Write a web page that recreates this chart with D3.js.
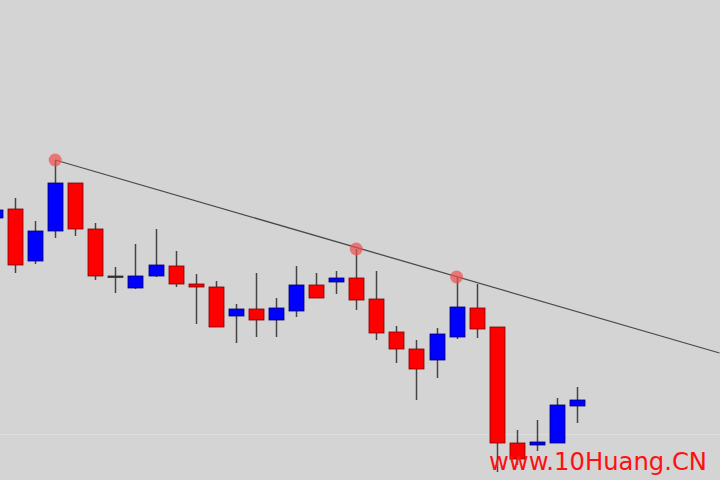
<!DOCTYPE html>
<html>
<head>
<meta charset="utf-8">
<script src="https://cdn.jsdelivr.net/npm/d3@7"></script>
<style>
  body { margin: 0; background: #d4d4d4; }
  svg { display: block; }
</style>
</head>
<body>
<div id="chart"></div>
<script>
// candle data (price units), index 0 is partly off the left edge
const opens  = [282, 291, 239, 269, 317, 271, 224, 212, 224, 234, 216, 213, 184, 191, 180, 189, 215, 218, 222, 201, 168, 151, 140, 163, 192, 173, 57, 55, 57, 94];
const closes = [290, 235, 269, 317, 271, 224, 224, 224, 235, 216, 213, 173, 191, 180, 192, 215, 202, 222, 200, 167, 151, 131, 166, 193, 171, 57, 41, 58, 95, 100];
const highs  = [296, 302, 279, 340, 317, 277, 233, 256, 271, 249, 226, 219, 196, 227, 202, 234, 227, 229, 251, 229, 174, 160, 172, 223, 216, 173, 70, 80, 102, 113];
const lows   = [278, 227, 236, 262, 264, 220, 207, 211, 223, 213, 176, 173, 157, 163, 163, 183, 202, 206, 190, 160, 137, 100, 122, 161, 162, 28, 35, 49, 57, 77];
const bullish = [true, false, true, true, false, false, null, true, true, false, false, false, true, false, true, true, false, true, false, false, false, false, true, true, false, false, false, true, true, true];

// trend line touches (candle index, price)
const touchIdx   = [3, 18, 23];
const touchPrice = [340, 251, 223];
const trendStart = [3, 340];
const trendEnd   = [36.1, 147];

const watermark = "www.10Huang.CN";

const width = 720, height = 480;

const svg = d3.select("#chart")
    .append("svg")
    .attr("width", width)
    .attr("height", height);

svg.append("rect")
    .attr("width", width)
    .attr("height", height)
    .attr("fill", "#d4d4d4");

// scales
const x = d3.scaleLinear().domain([0, 29]).range([-5, 577]);
const y = d3.scaleLinear().domain([20, 500]).range([480, 0]);
const candleW = 15;

// faint horizontal level line
svg.append("line")
    .attr("x1", 0).attr("x2", width)
    .attr("y1", y(65.5)).attr("y2", y(65.5))
    .attr("stroke", "#dedede")
    .attr("stroke-width", 1);

const idx = d3.range(opens.length);

// wicks
svg.selectAll(".wick")
    .data(idx)
    .enter().append("line")
    .attr("class", "wick")
    .attr("x1", i => Math.round(x(i)) + 0.5)
    .attr("x2", i => Math.round(x(i)) + 0.5)
    .attr("y1", i => y(highs[i]))
    .attr("y2", i => y(lows[i]))
    .attr("stroke", "#444")
    .attr("stroke-width", 1.5);

// bodies
svg.selectAll(".body")
    .data(idx)
    .enter().append("rect")
    .attr("class", "body")
    .attr("x", i => Math.round(x(i)) - candleW / 2 + 0.5)
    .attr("y", i => y(Math.max(opens[i], closes[i])))
    .attr("width", candleW)
    .attr("height", i => Math.max(1.5, Math.abs(y(opens[i]) - y(closes[i]))))
    .attr("fill", i => bullish[i] === null ? "#333" : (bullish[i] ? "#0000ff" : "#ff0000"))
    .attr("stroke", i => bullish[i] === null ? "#333" : (bullish[i] ? "#000066" : "#7a0000"))
    .attr("stroke-width", 0.8);

// trend line
svg.append("line")
    .attr("x1", x(trendStart[0])).attr("y1", y(trendStart[1]))
    .attr("x2", x(trendEnd[0])).attr("y2", y(trendEnd[1]))
    .attr("stroke", "#4a4a4a")
    .attr("stroke-width", 1.3);

// touch markers
svg.selectAll(".touch")
    .data(touchIdx)
    .enter().append("circle")
    .attr("class", "touch")
    .attr("cx", (d, k) => x(d))
    .attr("cy", (d, k) => y(touchPrice[k]))
    .attr("r", 6.5)
    .attr("fill", "#f05050")
    .attr("fill-opacity", 0.7);

// watermark
svg.append("text")
    .attr("x", 707)
    .attr("y", 470)
    .attr("text-anchor", "end")
    .attr("fill", "#ff1010")
    .style("font-family", "'DejaVu Sans', sans-serif")
    .style("font-size", "25px")
    .attr("textLength", 218)
    .attr("lengthAdjust", "spacingAndGlyphs")
    .text(watermark);
</script>
</body>
</html>
